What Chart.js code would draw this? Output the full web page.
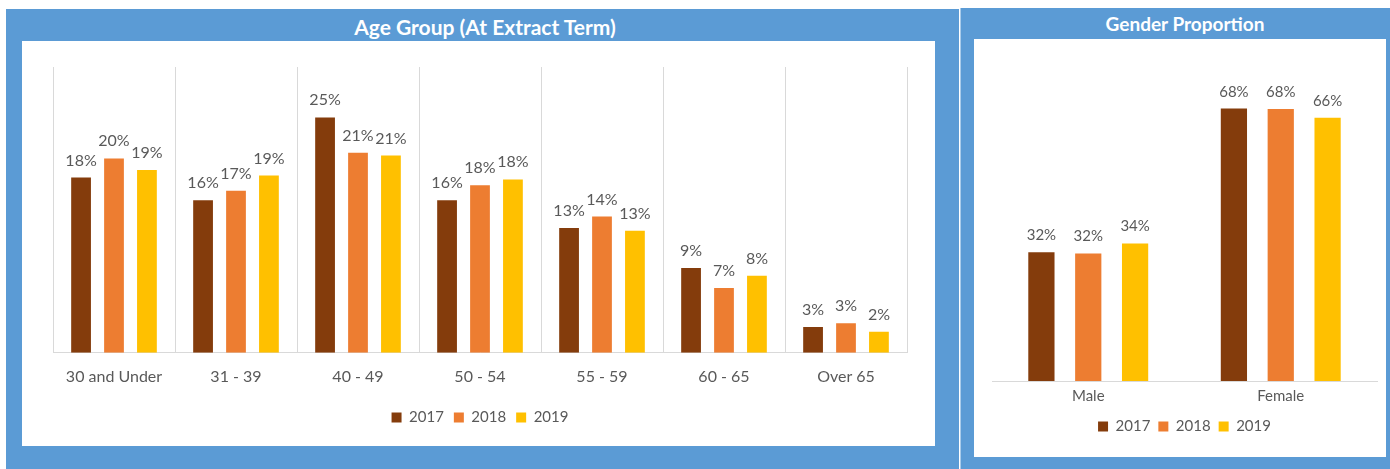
<!DOCTYPE html>
<html>
<head>
<meta charset="utf-8">
<script src="https://cdn.jsdelivr.net/npm/chart.js@4.4.0/dist/chart.umd.min.js"></script>
<style>
    body { margin: 0; background: #fff; width: 1390px; height: 469px; position: relative; overflow: hidden; font-family: Lato, sans-serif; }
    .panel { position: absolute; background: #5B9BD5; }
    .title { position: absolute; color: #fff; font-weight: bold; text-align: center; line-height: 24px; }
    .inner { position: absolute; background: #fff; }
    canvas { display: block; }
</style>
</head>
<body>
<div class="panel" style="left:6px; top:9px; width:953px; height:460px;"></div>
<div class="panel" style="left:960px; top:8px; width:430px; height:461px; border-left:1px solid #A9CBEA;"></div>

<div class="title" style="left:200px; width:570px; top:15px; font-size:21px;">Age Group (At Extract Term)</div>
<div class="title" style="left:1035px; width:300px; top:12px; font-size:19px;">Gender Proportion</div>

<div class="inner" style="left:22px; top:41px; width:913px; height:405px;">
    <canvas id="ageChart" width="913" height="405"></canvas>
</div>
<div class="inner" style="left:974px; top:39px; width:412px; height:418px;">
    <canvas id="genderChart" width="412" height="418"></canvas>
</div>

<script>
const years = ['2017', '2018', '2019'];

const ageLabels = ['30 and Under', '31 - 39', '40 - 49', '50 - 54', '55 - 59', '60 - 65', 'Over 65'];
const age2017 = [18.4, 16.0, 24.7, 16.0, 13.1, 8.9, 2.7];
const age2018 = [20.4, 17.0, 21.0, 17.6, 14.3, 6.8, 3.1];
const age2019 = [19.2, 18.6, 20.7, 18.2, 12.8, 8.1, 2.2];

const genderLabels = ['Male', 'Female'];
const gender2017 = [32.2, 68.1];
const gender2018 = [31.9, 68.0];
const gender2019 = [34.4, 65.8];

const yearColors = ['#843C0C', '#ED7D31', '#FFC000'];
const textColor = '#595959';
const fontFamily = 'Lato, sans-serif';

// draws the rounded % value above each bar
const barValueLabels = {
    id: 'barValueLabels',
    afterDatasetsDraw(chart, args, opts) {
        const ctx = chart.ctx;
        ctx.save();
        ctx.font = opts.size + 'px ' + fontFamily;
        ctx.fillStyle = textColor;
        ctx.textAlign = 'center';
        ctx.textBaseline = 'alphabetic';
        chart.data.datasets.forEach((ds, i) => {
            chart.getDatasetMeta(i).data.forEach((bar, j) => {
                ctx.fillText(Math.round(ds.data[j]) + '%', bar.x, bar.y - 12);
            });
        });
        ctx.restore();
    }
};

function makeDatasets(series) {
    return series.map((data, i) => ({
        label: years[i],
        data: data,
        backgroundColor: yearColors[i],
        borderWidth: 0
    }));
}

new Chart(document.getElementById('ageChart').getContext('2d'), {
    type: 'bar',
    data: {
        labels: ageLabels,
        datasets: makeDatasets([age2017, age2018, age2019])
    },
    options: {
        responsive: false,
        animation: false,
        categoryPercentage: 0.81,
        barPercentage: 0.6,
        layout: { padding: { left: 31, right: 28, top: 26, bottom: 11 } },
        scales: {
            x: {
                grid: { color: '#D9D9D9', drawTicks: false },
                border: { color: '#D9D9D9' },
                ticks: { color: textColor, font: { family: fontFamily, size: 16 }, padding: 14 }
            },
            y: { display: false, min: 0, max: 30 }
        },
        plugins: {
            legend: {
                position: 'bottom',
                labels: {
                    color: textColor,
                    font: { family: fontFamily, size: 15 },
                    boxWidth: 10,
                    boxHeight: 10,
                    padding: 10
                }
            },
            tooltip: { enabled: false },
            barValueLabels: { size: 16 }
        }
    },
    plugins: [barValueLabels]
});

new Chart(document.getElementById('genderChart').getContext('2d'), {
    type: 'bar',
    data: {
        labels: genderLabels,
        datasets: makeDatasets([gender2017, gender2018, gender2019])
    },
    options: {
        responsive: false,
        animation: false,
        categoryPercentage: 0.73,
        barPercentage: 0.56,
        layout: { padding: { left: 18, right: 9, top: 22, bottom: 13 } },
        scales: {
            x: {
                grid: { display: false, drawTicks: false },
                border: { color: '#D9D9D9' },
                ticks: { color: textColor, font: { family: fontFamily, size: 15 }, padding: 6 }
            },
            y: { display: false, min: 0, max: 80 }
        },
        plugins: {
            legend: {
                position: 'bottom',
                labels: {
                    color: textColor,
                    font: { family: fontFamily, size: 15 },
                    boxWidth: 10,
                    boxHeight: 10,
                    padding: 8
                }
            },
            tooltip: { enabled: false },
            barValueLabels: { size: 15 }
        }
    },
    plugins: [barValueLabels]
});
</script>
</body>
</html>
